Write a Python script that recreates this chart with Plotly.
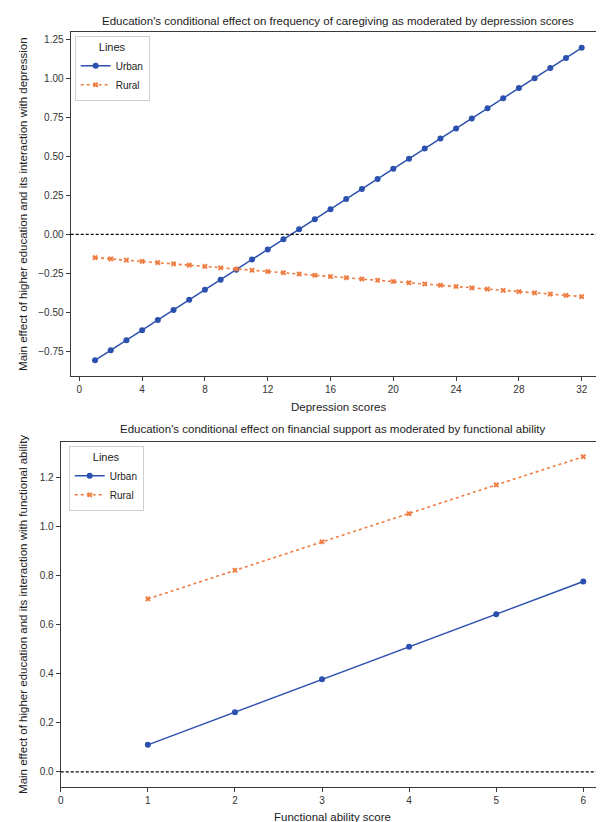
import plotly.graph_objects as go

# ---- data ----
depression_scores = list(range(1, 33))
urban_caregiving = [-0.810, -0.745, -0.680, -0.616, -0.551, -0.486, -0.421, -0.356,
                    -0.292, -0.227, -0.162, -0.097, -0.032, 0.032, 0.097, 0.162,
                    0.227, 0.292, 0.356, 0.421, 0.486, 0.551, 0.616, 0.680,
                    0.745, 0.810, 0.875, 0.940, 1.004, 1.069, 1.134, 1.199]
rural_caregiving = [-0.150, -0.158, -0.166, -0.174, -0.182, -0.190, -0.198, -0.206,
                    -0.215, -0.223, -0.231, -0.239, -0.247, -0.255, -0.263, -0.271,
                    -0.279, -0.287, -0.295, -0.303, -0.311, -0.319, -0.327, -0.335,
                    -0.344, -0.352, -0.360, -0.368, -0.376, -0.384, -0.392, -0.400]

functional_scores = [1, 2, 3, 4, 5, 6]
urban_financial = [0.110, 0.243, 0.377, 0.510, 0.643, 0.776]
rural_financial = [0.705, 0.822, 0.938, 1.053, 1.170, 1.285]

top_xticks = [0, 4, 8, 12, 16, 20, 24, 28, 32]
top_yticks = [-0.75, -0.50, -0.25, 0.00, 0.25, 0.50, 0.75, 1.00, 1.25]
bot_xticks = [0, 1, 2, 3, 4, 5, 6]
bot_yticks = [0.0, 0.2, 0.4, 0.6, 0.8, 1.0, 1.2]

title_top = "Education's conditional effect on frequency of caregiving as moderated by depression scores"
title_bot = "Education's conditional effect on financial support as moderated by functional ability"
ylab_top = "Main effect of higher education and its interaction with depression"
ylab_bot = "Main effect of higher education and its interaction with functional ability"
xlab_top = "Depression scores"
xlab_bot = "Functional ability score"

# ---- style ----
W, H = 604, 822
BLUE = "#2b50ad"
ORANGE = "#ee7d43"
AX = "#3a3a3a"
FONT = "Liberation Sans, Arial, sans-serif"

def px(x):
    return x / W

def py(y):
    return 1 - y / H

fig = go.Figure()

fig.add_trace(go.Scatter(x=depression_scores, y=urban_caregiving, name="Urban",
                         mode="lines+markers", line=dict(color=BLUE, width=1.5),
                         marker=dict(symbol="circle", size=6, color=BLUE),
                         xaxis="x", yaxis="y", legend="legend"))
fig.add_trace(go.Scatter(x=depression_scores, y=rural_caregiving, name="Rural",
                         mode="lines+markers", line=dict(color=ORANGE, width=1.6, dash="dot"),
                         marker=dict(symbol="x", size=5, color=ORANGE),
                         xaxis="x", yaxis="y", legend="legend"))
fig.add_trace(go.Scatter(x=functional_scores, y=urban_financial, name="Urban",
                         mode="lines+markers", line=dict(color=BLUE, width=1.5),
                         marker=dict(symbol="circle", size=6, color=BLUE),
                         xaxis="x2", yaxis="y2", legend="legend2"))
fig.add_trace(go.Scatter(x=functional_scores, y=rural_financial, name="Rural",
                         mode="lines+markers", line=dict(color=ORANGE, width=1.6, dash="dot"),
                         marker=dict(symbol="x", size=5, color=ORANGE),
                         xaxis="x2", yaxis="y2", legend="legend2"))

axis_common = dict(showgrid=False, zeroline=False, showline=True, linecolor=AX,
                   linewidth=1.3, mirror=True, ticks="outside", ticklen=4,
                   tickwidth=1.2, tickcolor=AX, tickfont=dict(size=10, color="#333"))

# Top panel: x 60..598, y 24..368 ; bottom panel: x 50..597, y 434..779
fig.update_layout(
    xaxis=dict(domain=[px(60), px(598)], range=[-0.55, 33.55], tickvals=top_xticks,
               anchor="y", **axis_common),
    yaxis=dict(domain=[py(368), py(24)], range=[-0.9105, 1.3005], tickvals=top_yticks,
               tickformat=".2f", anchor="x", **axis_common),
    xaxis2=dict(domain=[px(50), px(597)], range=[0, 6.25], tickvals=bot_xticks,
                anchor="y2", **axis_common),
    yaxis2=dict(domain=[py(779), py(434)], range=[-0.062, 1.345], tickvals=bot_yticks,
                tickformat=".1f", anchor="x2", **axis_common),
)

# zero reference lines
fig.add_shape(type="line", xref="x domain", yref="y", x0=0, x1=1, y0=0, y1=0,
              line=dict(color="black", width=1.2, dash="3px,2px"))
fig.add_shape(type="line", xref="x2 domain", yref="y2", x0=0, x1=1, y0=0, y1=0,
              line=dict(color="black", width=1.2, dash="3px,2px"))

legend_common = dict(bgcolor="rgba(255,255,255,0.9)", bordercolor="#d0d0d0", borderwidth=1,
                     font=dict(size=10, color="#222"), xanchor="left", yanchor="top",
                     itemwidth=30, tracegroupgap=0)
fig.update_layout(
    legend=dict(x=px(64), y=py(28), title=dict(text="Lines", side="top center",
                                               font=dict(size=11, color="#222")),
                **legend_common),
    legend2=dict(x=px(58), y=py(438), title=dict(text="Lines", side="top center",
                                                 font=dict(size=11, color="#222")),
                 **legend_common),
)

ann = []
ann.append(dict(text=title_top, x=px(329), y=py(13), xref="paper", yref="paper",
                showarrow=False, font=dict(size=11.5, color="#222"), xanchor="center", yanchor="middle"))
ann.append(dict(text=title_bot, x=px(323), y=py(421), xref="paper", yref="paper",
                showarrow=False, font=dict(size=11.5, color="#222"), xanchor="center", yanchor="middle"))
ann.append(dict(text=xlab_top, x=px(329), y=py(399), xref="paper", yref="paper",
                showarrow=False, font=dict(size=11.5, color="#222"), xanchor="center", yanchor="middle"))
ann.append(dict(text=xlab_bot, x=px(323), y=py(809), xref="paper", yref="paper",
                showarrow=False, font=dict(size=11.5, color="#222"), xanchor="center", yanchor="middle"))
ann.append(dict(text=ylab_top, x=px(12), y=py(196), xref="paper", yref="paper", textangle=-90,
                showarrow=False, font=dict(size=11.5, color="#222"), xanchor="center", yanchor="middle"))
ann.append(dict(text=ylab_bot, x=px(12), y=py(606), xref="paper", yref="paper", textangle=-90,
                showarrow=False, font=dict(size=11.5, color="#222"), xanchor="center", yanchor="middle"))

fig.update_layout(
    width=W, height=H, autosize=False,
    margin=dict(l=0, r=0, t=0, b=0),
    paper_bgcolor="white", plot_bgcolor="white",
    font=dict(family=FONT, color="#222"),
    annotations=ann,
    showlegend=True,
)

fig.write_html("out.html")
